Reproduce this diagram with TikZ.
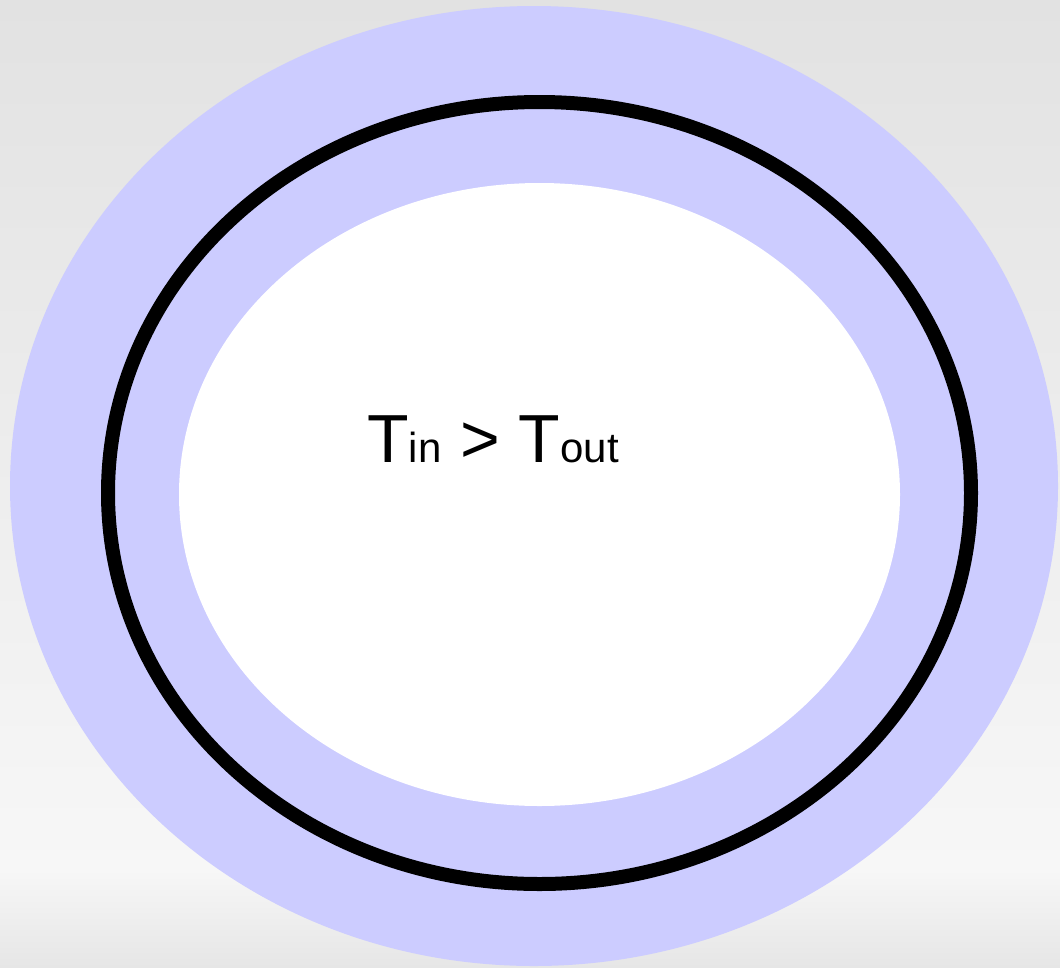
\documentclass[tikz,border=0pt]{standalone}
\usepackage{fontspec}
\setmainfont{Liberation Sans}
\definecolor{ringblue}{HTML}{CCCCFF}
\definecolor{bgtop}{HTML}{E2E2E2}
\definecolor{bgmid}{HTML}{F7F7F7}
\definecolor{bgbot}{HTML}{E6E6E6}
\begin{document}
\begin{tikzpicture}[x=1pt,y=-1pt,
  bigtext/.style={anchor=base west,inner sep=0pt,font=\fontsize{68}{80}\selectfont}]
\useasboundingbox (0,0) rectangle (1060,967);
\shade[top color=bgtop,bottom color=bgmid] (0,0) rectangle (1060,870);
\shade[top color=bgmid,bottom color=bgbot] (0,870) rectangle (1060,967);
\begin{scope}
\clip (0,0) rectangle (1060,967);
\fill[ringblue] (534,486) ellipse [x radius=524pt, y radius=480pt];
\end{scope}
\draw[line width=14pt] (539.5,493) ellipse [x radius=431.5pt, y radius=391pt];
\fill[white] (539.5,494.5) ellipse [x radius=360.5pt, y radius=311.5pt];
\node[bigtext] (label) at (367,462) {T{\fontsize{42}{50}\selectfont in} > T{\fontsize{42}{50}\selectfont out}};
\end{tikzpicture}
\end{document}
